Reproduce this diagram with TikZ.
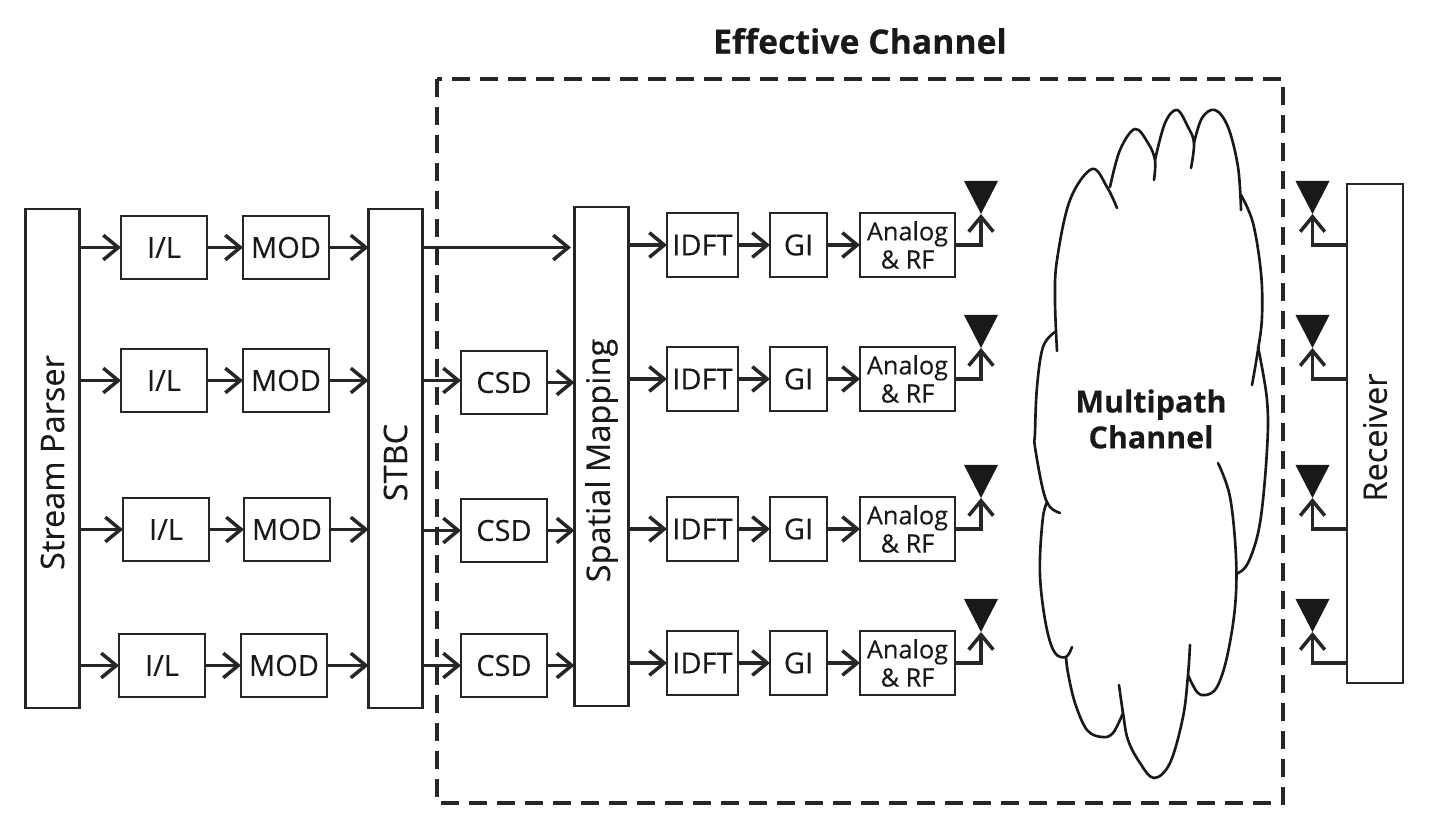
\documentclass[tikz,border=0pt]{standalone}
\usepackage{fontspec}
\setmainfont[FakeBold=0.25]{Open Sans}
\usetikzlibrary{arrows.meta}

\begin{document}
\begin{tikzpicture}[x=0.02cm, y=-0.02cm,
    every node/.style={font=\fontsize{16.5}{20}\selectfont, text=black!90},
    blockbox/.style={draw=black!85, line width=1.6pt, inner sep=0pt, outer sep=0pt, align=center},
    tallbox/.style={blockbox, rotate=90, minimum width=9.98cm, minimum height=1.08cm, font=\fontsize{18.5}{22}\selectfont, execute at end node={\hspace*{0.16cm}}},
    ilbox/.style={blockbox, minimum width=1.72cm, minimum height=1.26cm},
    idftbox/.style={blockbox, minimum width=1.42cm, minimum height=1.28cm},
    gibox/.style={blockbox, minimum width=1.14cm, minimum height=1.28cm},
    rfbox/.style={blockbox, minimum width=1.9cm, minimum height=1.28cm, font=\fontsize{14.4}{16}\selectfont},
    link/.style={draw=black!85, line width=2pt, -{Straight Barb[length=8.5pt, width=14pt, line width=2pt]}},
    antenna/.style={fill=black!90},
    cloudline/.style={draw=black!90, line width=1.5pt, line cap=round},
    boldlabel/.style={font=\fontsize{17.3}{20.4}\selectfont\bfseries}]
    \useasboundingbox (0,0) rectangle (1438,830);

    % Effective channel
    \draw[draw=black!85, line width=2.1pt, dash pattern=on 0.36cm off 0.2cm] (437,79) rectangle (1283,803);
    \node[boldlabel, font=\fontsize{19.2}{23}\selectfont\bfseries] (effective-label) at (860,41) {Effective Channel};

    % Stream parser and STBC
    \node[tallbox] (parser) at (52.5,458.5) {Stream Parser};
    \node[tallbox] (stbc) at (395.5,458.5) {STBC};
    \node[tallbox] (spatial) at (601.5,456.5) {Spatial Mapping};

    % I/L
    \node[ilbox] (il1) at (164,247.5) {I/L};
    \node[ilbox] (il2) at (164,380.5) {I/L};
    \node[ilbox] (il3) at (166,529.5) {I/L};
    \node[ilbox] (il4) at (162,665.5) {I/L};

    % MOD
    \node[ilbox] (mod1) at (286,247.5) {MOD};
    \node[ilbox] (mod2) at (286,380.5) {MOD};
    \node[ilbox] (mod3) at (287,529.5) {MOD};
    \node[ilbox] (mod4) at (284,665.5) {MOD};

    % CSD
    \node[ilbox] (csd2) at (504,382.5) {CSD};
    \node[ilbox] (csd3) at (504,530.5) {CSD};
    \node[ilbox] (csd4) at (504,665.5) {CSD};

    % IDFT
    \node[idftbox] (idft1) at (702.5,245) {IDFT};
    \node[idftbox] (idft2) at (702.5,379) {IDFT};
    \node[idftbox] (idft3) at (702.5,529) {IDFT};
    \node[idftbox] (idft4) at (702.5,663) {IDFT};

    % GI
    \node[gibox] (gi1) at (798.5,245) {GI};
    \node[gibox] (gi2) at (798.5,379) {GI};
    \node[gibox] (gi3) at (798.5,529) {GI};
    \node[gibox] (gi4) at (798.5,663) {GI};

    % Analog and RF
    \node[rfbox] (rf1) at (907.5,245) {Analog\\\& RF};
    \node[rfbox] (rf2) at (907.5,379) {Analog\\\& RF};
    \node[rfbox] (rf3) at (907.5,529) {Analog\\\& RF};
    \node[rfbox] (rf4) at (907.5,663) {Analog\\\& RF};

    % Receiver
    \node[tallbox, minimum height=1.12cm] (receiver) at (1375,433.5) {Receiver};

    % Arrows: parser to STBC
    \draw[link] (parser.south |- il1.west) -- (il1.west);
    \draw[link] (parser.south |- il2.west) -- (il2.west);
    \draw[link] (parser.south |- il3.west) -- (il3.west);
    \draw[link] (parser.south |- il4.west) -- (il4.west);
    \draw[link] (il1.east) -- (mod1.west);
    \draw[link] (il2.east) -- (mod2.west);
    \draw[link] (il3.east) -- (mod3.west);
    \draw[link] (il4.east) -- (mod4.west);
    \draw[link] (mod1.east) -- (stbc.north |- mod1.east);
    \draw[link] (mod2.east) -- (stbc.north |- mod2.east);
    \draw[link] (mod3.east) -- (stbc.north |- mod3.east);
    \draw[link] (mod4.east) -- (stbc.north |- mod4.east);

    % Arrows: STBC to spatial mapping
    \draw[link, shorten >=2pt] (stbc.south |- mod1.east) -- (spatial.north |- mod1.east);
    \draw[link] (stbc.south |- mod2.east) -- (csd2.west |- mod2.east);
    \draw[link] (stbc.south |- csd3.west) -- (csd3.west);
    \draw[link] (stbc.south |- csd4.west) -- (csd4.west);
    \draw[link] (csd2.east) -- (spatial.north |- csd2.east);
    \draw[link] (csd3.east) -- (spatial.north |- csd3.east);
    \draw[link] (csd4.east) -- (spatial.north |- csd4.east);

    % Arrows: spatial mapping to antennas
    \draw[link] (spatial.south |- idft1.west) -- (idft1.west);
    \draw[link] (spatial.south |- idft2.west) -- (idft2.west);
    \draw[link] (spatial.south |- idft3.west) -- (idft3.west);
    \draw[link] (spatial.south |- idft4.west) -- (idft4.west);
    \draw[link] (idft1.east) -- (gi1.west);
    \draw[link] (idft2.east) -- (gi2.west);
    \draw[link] (idft3.east) -- (gi3.west);
    \draw[link] (idft4.east) -- (gi4.west);
    \draw[link] (gi1.east) -- (rf1.west);
    \draw[link] (gi2.east) -- (rf2.west);
    \draw[link] (gi3.east) -- (rf3.west);
    \draw[link] (gi4.east) -- (rf4.west);

    % Transmit antennas
    \coordinate (tx1) at (981,214);
    \coordinate (tx2) at (981,348);
    \coordinate (tx3) at (981,498);
    \coordinate (tx4) at (981,632);
    \fill[antenna] (tx1) -- ++(-17,-33) -- ++(34,0) -- cycle;
    \fill[antenna] (tx2) -- ++(-17,-33) -- ++(34,0) -- cycle;
    \fill[antenna] (tx3) -- ++(-17,-33) -- ++(34,0) -- cycle;
    \fill[antenna] (tx4) -- ++(-17,-33) -- ++(34,0) -- cycle;
    \draw[link] (rf1.east) -| (tx1);
    \draw[link] (rf2.east) -| (tx2);
    \draw[link] (rf3.east) -| (tx3);
    \draw[link] (rf4.east) -| (tx4);

    % Receive antennas
    \coordinate (rx1) at (1312.5,214);
    \coordinate (rx2) at (1312.5,348);
    \coordinate (rx3) at (1312.5,498);
    \coordinate (rx4) at (1312.5,632);
    \coordinate (rxport1) at (receiver.north |- 0,245);
    \coordinate (rxport2) at (receiver.north |- 0,379);
    \coordinate (rxport3) at (receiver.north |- 0,529);
    \coordinate (rxport4) at (receiver.north |- 0,663);
    \fill[antenna] (rx1) -- ++(-17,-33) -- ++(34,0) -- cycle;
    \fill[antenna] (rx2) -- ++(-17,-33) -- ++(34,0) -- cycle;
    \fill[antenna] (rx3) -- ++(-17,-33) -- ++(34,0) -- cycle;
    \fill[antenna] (rx4) -- ++(-17,-33) -- ++(34,0) -- cycle;
    \draw[link] (rxport1) -| (rx1);
    \draw[link] (rxport2) -| (rx2);
    \draw[link] (rxport3) -| (rx3);
    \draw[link] (rxport4) -| (rx4);

    % Cloud
    \draw[cloudline] plot[smooth, tension=0.6] coordinates {(1057,351) (1055,300) (1057,260) (1070,200) (1092,169) (1107,187) (1117,208)};
    \draw[cloudline] plot[smooth, tension=0.6] coordinates {(1110,187) (1120,150) (1135,129) (1148,143) (1155,160) (1154,180)};
    \draw[cloudline] plot[smooth, tension=0.6] coordinates {(1155,160) (1165,123) (1177,110) (1188,127) (1194,143) (1191,168)};
    \draw[cloudline] plot[smooth, tension=0.6] coordinates {(1194,143) (1202,118) (1215,110) (1228,127) (1238,167) (1241,210)};
    \draw[cloudline] plot[smooth, tension=0.6] coordinates {(1241,195) (1253,223) (1261,273) (1262,317) (1258,350) (1252,385)};
    \draw[cloudline] plot[smooth, tension=0.6] coordinates {(1258,347) (1267,400) (1267,450) (1260,523) (1248,563) (1236,574)};
    \draw[cloudline] plot[smooth, tension=0.6] coordinates {(1218,463) (1230,497) (1236,557) (1235,607) (1227,657) (1217,687) (1206,695) (1197,692) (1188,675)};
    \draw[cloudline] plot[smooth, tension=0.6] coordinates {(1190,645) (1188,675) (1183,717) (1170,763) (1154,778) (1140,763) (1128,740) (1123,713) (1119,685)};
    \draw[cloudline] plot[smooth, tension=0.6] coordinates {(1123,713) (1113,733) (1102,737) (1087,730) (1075,703) (1068,673) (1066,657)};
    \draw[cloudline] plot[smooth, tension=0.6] coordinates {(1072,647) (1066,657) (1055,653) (1047,630) (1041,590) (1040,557) (1043,517) (1047,502)};
    \draw[cloudline] plot[smooth, tension=0.6] coordinates {(1060,513) (1050,507) (1043,490) (1035,447) (1035,433) (1037,387) (1043,347) (1055,332)};
    \node[boldlabel, align=center] (multipath) at (1151,419) {Multipath\\Channel};
\end{tikzpicture}
\end{document}
